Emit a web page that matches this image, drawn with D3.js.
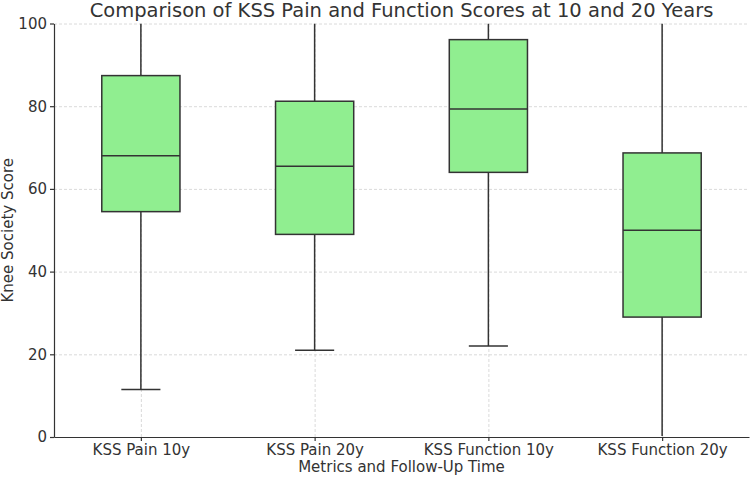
<!DOCTYPE html>
<html lang="en">
<head>
    <meta charset="UTF-8">
    <title>KSS Box Plot</title>
    <style>
        body { margin: 0; background: #fff; }
        svg { display: block; font-family: "DejaVu Sans", sans-serif; }
        .grid line { stroke: #d0d0d0; stroke-dasharray: 3,2; stroke-width: 0.8; }
        .grid path { display: none; }
        .axis path, .axis line { stroke: #333; stroke-width: 1.2; }
        .axis text { fill: #333; font-size: 15px; font-family: "DejaVu Sans", sans-serif; }
        .box { fill: #90ee90; stroke: #333; stroke-width: 1.5; }
        .whisker, .cap, .median { stroke: #333; stroke-width: 1.5; }
    </style>
</head>
<body>
    <svg id="chart"></svg>
    <script src="https://cdnjs.cloudflare.com/ajax/libs/d3/7.9.0/d3.js"></script>
    <script>
        // values
        const categories = ["KSS Pain 10y", "KSS Pain 20y", "KSS Function 10y", "KSS Function 20y"];
        const whiskerLow = [11.5, 21, 22, 0];
        const q1 = [54.5, 49, 64, 29];
        const medians = [68, 65.5, 79.3, 50];
        const q3 = [87.4, 81.2, 96.1, 68.7];
        const whiskerHigh = [100, 100, 100, 100];
        const yTicks = [0, 20, 40, 60, 80, 100];

        const w = 750, h = 477;
        const margin = { top: 23.5, right: 1, bottom: 40, left: 54 };

        const svg = d3.select("#chart").attr("width", w).attr("height", h);

        const x = d3.scalePoint()
            .domain(categories)
            .range([margin.left, w - margin.right])
            .padding(0.5);
        const step = x.step();
        const boxW = step * 0.45;

        const y = d3.scaleLinear()
            .domain([0, 100])
            .range([h - margin.bottom, margin.top]);

        // grid
        svg.append("g")
            .attr("class", "grid")
            .attr("transform", "translate(" + margin.left + ",0)")
            .call(d3.axisLeft(y).tickValues(yTicks).tickSize(-(w - margin.left - margin.right)).tickFormat(""));
        svg.append("g")
            .attr("class", "grid")
            .attr("transform", "translate(0," + (h - margin.bottom) + ")")
            .call(d3.axisBottom(x).tickSize(-(h - margin.bottom - margin.top)).tickFormat(""));

        // clip whiskers/caps at the plot edges (top caps sit on the limit)
        svg.append("clipPath").attr("id", "plot-clip")
            .append("rect")
            .attr("x", margin.left).attr("y", margin.top)
            .attr("width", w - margin.left - margin.right)
            .attr("height", h - margin.top - margin.bottom - 1);

        const data = categories.map((c, i) => ({
            cat: c, lo: whiskerLow[i], q1: q1[i], med: medians[i], q3: q3[i], hi: whiskerHigh[i]
        }));

        const plot = svg.append("g").attr("clip-path", "url(#plot-clip)");
        const g = plot.selectAll(".item").data(data).enter().append("g");

        g.append("line").attr("class", "whisker")
            .attr("x1", d => x(d.cat)).attr("x2", d => x(d.cat))
            .attr("y1", d => y(d.lo)).attr("y2", d => y(d.q1));
        g.append("line").attr("class", "whisker")
            .attr("x1", d => x(d.cat)).attr("x2", d => x(d.cat))
            .attr("y1", d => y(d.q3)).attr("y2", d => y(d.hi));
        g.append("line").attr("class", "cap")
            .attr("x1", d => x(d.cat) - boxW / 4).attr("x2", d => x(d.cat) + boxW / 4)
            .attr("y1", d => y(d.lo) + (d.lo <= 0 ? 2 : 0)).attr("y2", d => y(d.lo) + (d.lo <= 0 ? 2 : 0));
        g.append("line").attr("class", "cap")
            .attr("x1", d => x(d.cat) - boxW / 4).attr("x2", d => x(d.cat) + boxW / 4)
            .attr("y1", d => y(d.hi) - 2).attr("y2", d => y(d.hi) - 2);
        g.append("rect").attr("class", "box")
            .attr("x", d => x(d.cat) - boxW / 2)
            .attr("width", boxW)
            .attr("y", d => y(d.q3))
            .attr("height", d => y(d.q1) - y(d.q3));
        g.append("line").attr("class", "median")
            .attr("x1", d => x(d.cat) - boxW / 2).attr("x2", d => x(d.cat) + boxW / 2)
            .attr("y1", d => y(d.med)).attr("y2", d => y(d.med));

        // axes
        svg.append("g")
            .attr("class", "axis")
            .attr("transform", "translate(0," + (h - margin.bottom) + ")")
            .call(d3.axisBottom(x).tickSize(4).tickSizeOuter(0).tickPadding(3));
        svg.append("g")
            .attr("class", "axis")
            .attr("transform", "translate(" + margin.left + ",0)")
            .call(d3.axisLeft(y).tickValues(yTicks).tickSize(4).tickSizeOuter(0).tickPadding(3));

        // labels
        svg.append("text")
            .attr("x", (margin.left + w - margin.right) / 2)
            .attr("y", 17)
            .attr("text-anchor", "middle")
            .attr("fill", "#333")
            .style("font-size", "19.5px")
            .text("Comparison of KSS Pain and Function Scores at 10 and 20 Years");
        svg.append("text")
            .attr("x", (margin.left + w - margin.right) / 2)
            .attr("y", 472)
            .attr("text-anchor", "middle")
            .attr("fill", "#333")
            .style("font-size", "15px")
            .text("Metrics and Follow-Up Time");
        svg.append("text")
            .attr("transform", "translate(13," + ((margin.top + h - margin.bottom) / 2) + ") rotate(-90)")
            .attr("text-anchor", "middle")
            .attr("fill", "#333")
            .style("font-size", "15px")
            .text("Knee Society Score");
    </script>
</body>
</html>
